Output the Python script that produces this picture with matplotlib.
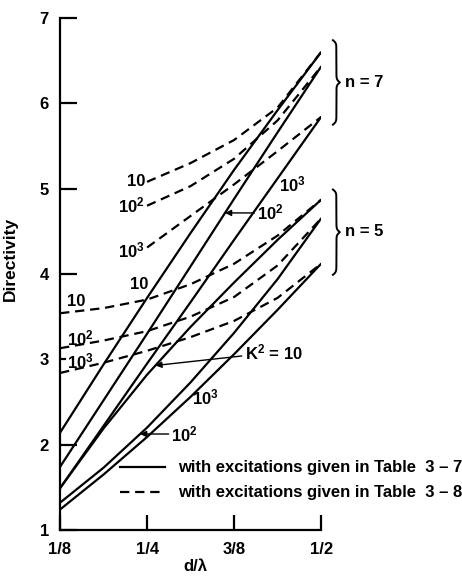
import numpy as np
import matplotlib
matplotlib.use("Agg")
import matplotlib.pyplot as plt
from matplotlib.ticker import FixedLocator, FixedFormatter

plt.rcParams["font.family"] = ["Liberation Sans", "DejaVu Sans"]
plt.rcParams["font.weight"] = "bold"
plt.rcParams["mathtext.fontset"] = "custom"
plt.rcParams["mathtext.rm"] = "Liberation Sans:bold"
plt.rcParams["mathtext.bf"] = "Liberation Sans:bold"
plt.rcParams["mathtext.default"] = "bf"

# spacing d/lambda
d_solid = [0.125, 0.1875, 0.25, 0.3125, 0.375, 0.4375, 0.5]
# Table 3-7 excitations (solid)
n7_k10 = [2.14, 2.94, 3.72, 4.48, 5.22, 5.92, 6.60]
n7_k100 = [1.74, 2.52, 3.30, 4.09, 4.88, 5.66, 6.43]
n7_k1000 = [1.49, 2.22, 2.95, 3.67, 4.40, 5.12, 5.84]
n5_k10 = [1.49, 2.19, 2.82, 3.38, 3.90, 4.40, 4.87]
n5_k100 = [1.32, 1.73, 2.20, 2.73, 3.31, 3.94, 4.65]
n5_k1000 = [1.24, 1.65, 2.09, 2.56, 3.06, 3.58, 4.12]

# Table 3-8 excitations (dashed)
d_dash7 = [0.25, 0.3125, 0.375, 0.4375, 0.5]
n7d_k10 = [5.08, 5.30, 5.57, 5.95, 6.60]
n7d_k100 = [4.80, 5.03, 5.35, 5.80, 6.43]
n7d_k1000 = [4.31, 4.68, 5.05, 5.44, 5.84]
d_dash5 = [0.125, 0.1875, 0.25, 0.3125, 0.375, 0.4375, 0.5]
n5d_k10 = [3.54, 3.60, 3.70, 3.88, 4.12, 4.45, 4.87]
n5d_k100 = [3.13, 3.22, 3.33, 3.50, 3.73, 4.10, 4.65]
n5d_k1000 = [2.84, 2.96, 3.10, 3.26, 3.45, 3.72, 4.12]

x_ticks = [0.125, 0.25, 0.375, 0.5]
x_labels = ["1/8", "1/4", "3/8", "1/2"]
y_major = [1, 2, 4, 5, 6, 7]

LW = 1.6
DASH = (0, (4.2, 2.6))
FS = 12

fig = plt.figure(figsize=(4.62, 5.77), dpi=100)
ax = fig.add_axes([0.130, 0.0815, 0.565, 0.8873])

for ys in (n7_k10, n7_k100, n7_k1000, n5_k10, n5_k100, n5_k1000):
    ax.plot(d_solid, ys, color="black", lw=LW, solid_capstyle="round")
for ys in (n7d_k10, n7d_k100, n7d_k1000):
    ax.plot(d_dash7, ys, color="black", lw=LW, linestyle=DASH)
for ys in (n5d_k10, n5d_k100, n5d_k1000):
    ax.plot(d_dash5, ys, color="black", lw=LW, linestyle=DASH)

ax.set_xlim(0.125, 0.5)
ax.set_ylim(1, 7)
for s in ("top", "right"):
    ax.spines[s].set_visible(False)
for s in ("left", "bottom"):
    ax.spines[s].set_linewidth(1.6)

ax.xaxis.set_major_locator(FixedLocator(x_ticks))
ax.xaxis.set_major_formatter(FixedFormatter(x_labels))
ax.yaxis.set_major_locator(FixedLocator(y_major))
ax.yaxis.set_minor_locator(FixedLocator([3]))
ax.yaxis.set_minor_formatter(FixedFormatter(["3"]))
ax.tick_params(axis="y", which="major", direction="in", length=12, width=1.6,
               labelsize=FS, pad=8)
ax.tick_params(axis="y", which="minor", direction="in", length=4, width=1.6,
               labelsize=FS, pad=8)
ax.tick_params(axis="x", direction="in", length=11, width=1.6, labelsize=FS, pad=9)

ax.set_ylabel("Directivity", fontsize=FS + 0.5, fontweight="bold")
ax.yaxis.set_label_coords(-0.16, 0.53)
ax.set_xlabel("d/λ", fontsize=FS, fontweight="bold")
ax.xaxis.set_label_coords(0.517, -0.071)
ax.xaxis.label.set_va("center")

lab = dict(fontsize=FS, color="black", clip_on=False)

# dashed labels, n = 7
ax.text(0.247, 5.08, "10", ha="right", va="center", **lab)
ax.text(0.247, 4.80, "10$^2$", ha="right", va="center", **lab)
ax.text(0.247, 4.28, "10$^3$", ha="right", va="center", **lab)
# dashed labels, n = 5
ax.text(0.135, 3.68, "10", ha="left", va="center", **lab)
ax.text(0.135, 3.25, "10$^2$", ha="left", va="center", **lab)
ax.text(0.135, 2.97, "10$^3$", ha="left", va="center", **lab)
# solid labels, n = 7
ax.text(0.252, 3.88, "10", ha="right", va="center", **lab)
ax.text(0.440, 5.05, "10$^3$", ha="left", va="center", **lab)
# solid labels, n = 5
ax.text(0.315, 2.55, "10$^3$", ha="left", va="center", **lab)

arrow = dict(arrowstyle="-|>", color="black", lw=1.0, mutation_scale=9,
             shrinkA=0, shrinkB=0)
d_a = 0.362
y_a = np.interp(d_a, d_solid, n7_k100)
ax.annotate("10$^2$", xy=(d_a, y_a), xytext=(0.408, y_a),
            ha="left", va="center", arrowprops=arrow, fontsize=FS)
d_b = 0.262
ax.annotate("K$^2$ = 10", xy=(d_b, np.interp(d_b, d_solid, n5_k10)),
            xytext=(0.39, 3.08), ha="left", va="center", arrowprops=arrow,
            fontsize=FS)
d_c = 0.240
y_c = np.interp(d_c, d_solid, n5_k100)
ax.annotate("10$^2$", xy=(d_c, y_c), xytext=(0.285, y_c),
            ha="left", va="center", arrowprops=arrow, fontsize=FS)


def brace(ax, x, y_lo, y_hi, width, beta=60.0):
    t = np.linspace(0, 0.5, 120)
    half = 1 / (1 + np.exp(-beta * (t - t[0]))) + 1 / (1 + np.exp(-beta * (t - t[-1])))
    prof = np.concatenate((half, half[-2::-1]))
    prof = (prof - prof.min()) / (prof.max() - prof.min())
    ys = np.linspace(y_lo, y_hi, prof.size)
    ax.plot(x + width * prof, ys, color="black", lw=1.4, clip_on=False)


brace(ax, 0.517, 5.75, 6.74, 0.010)
brace(ax, 0.517, 3.99, 4.99, 0.010)
ax.text(0.535, 6.24, "n = 7", ha="left", va="center", fontsize=FS, clip_on=False)
ax.text(0.535, 4.50, "n = 5", ha="left", va="center", fontsize=FS, clip_on=False)

ax.plot([], [], color="black", lw=LW, label="with excitations given in Table  3 – 7")
ax.plot([], [], color="black", lw=LW, linestyle=DASH,
        label="with excitations given in Table  3 – 8")
ax.legend(loc="upper left", bbox_to_anchor=(0.23, 0.136), frameon=False,
          fontsize=FS, handlelength=2.7, handletextpad=0.75, labelspacing=0.6,
          borderpad=0, borderaxespad=0)

fig.savefig("out.png", dpi=100, facecolor="white")
